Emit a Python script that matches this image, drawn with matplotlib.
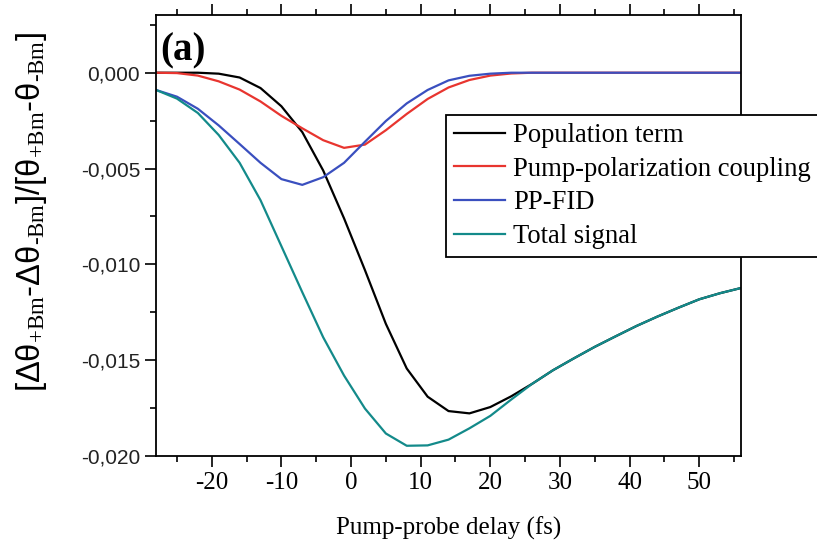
import numpy as np
import matplotlib
matplotlib.use('Agg')
import matplotlib.pyplot as plt
from matplotlib.ticker import MultipleLocator, FuncFormatter

# pump-probe delay (fs)
delay = [-28, -25, -22, -19, -16, -13, -10, -7, -4, -1, 2, 5, 8, 11, 14,
         17, 20, 23, 26, 29, 32, 35, 38, 41, 44, 47, 50, 53, 56]

population = [0.0, 0.0, 0.0, -0.00005, -0.00025, -0.0008, -0.00175, -0.0031,
              -0.0051, -0.0076, -0.0103, -0.0131, -0.01543, -0.0169, -0.01765,
              -0.01777, -0.01744, -0.01688, -0.01623, -0.01552, -0.0149,
              -0.0143, -0.01375, -0.01321, -0.01272, -0.01226, -0.01182,
              -0.0115, -0.01123]
pump_pol = [0.0, -0.00002, -0.00015, -0.00045, -0.00088, -0.0015, -0.00225,
            -0.0029, -0.00352, -0.00392, -0.00375, -0.003, -0.00215, -0.00137,
            -0.00077, -0.00038, -0.00015, -0.00004, 0.0, 0.0, 0.0, 0.0, 0.0,
            0.0, 0.0, 0.0, 0.0, 0.0, 0.0]
pp_fid = [-0.0009, -0.00125, -0.00188, -0.00275, -0.00372, -0.0047, -0.00555,
          -0.00585, -0.00545, -0.0047, -0.0036, -0.00252, -0.0016, -0.0009,
          -0.0004, -0.00016, -0.00005, 0.0, 0.0, 0.0, 0.0, 0.0, 0.0, 0.0,
          0.0, 0.0, 0.0, 0.0, 0.0]
total = [-0.0009, -0.00135, -0.0021, -0.00325, -0.0047, -0.00665, -0.00905,
         -0.01145, -0.0138, -0.0158, -0.01752, -0.01882, -0.01946, -0.01944,
         -0.01914, -0.01855, -0.0179, -0.01705, -0.01623, -0.01552, -0.0149,
         -0.0143, -0.01375, -0.01321, -0.01272, -0.01226, -0.01182, -0.0115,
         -0.01123]

serif = ['Liberation Serif', 'DejaVu Serif']
sans = ['Liberation Sans', 'DejaVu Sans']

plt.rcParams['axes.unicode_minus'] = False
plt.rcParams['mathtext.fontset'] = 'custom'
plt.rcParams['mathtext.rm'] = 'Liberation Serif'
plt.rcParams['mathtext.it'] = 'Liberation Serif:italic'
plt.rcParams['mathtext.bf'] = 'Liberation Serif:bold'

fig = plt.figure(figsize=(8.17, 5.43), dpi=100)
ax = fig.add_axes([0.191, 0.160, 0.716, 0.812])

ax.plot(delay, population, color='black', lw=1.6, label='Population term')
ax.plot(delay, pump_pol, color='#e8352f', lw=1.6, label='Pump-polarization coupling')
ax.plot(delay, pp_fid, color='#3a4fbf', lw=1.6, label='PP-FID')
ax.plot(delay, total, color='#138a8a', lw=1.6, label='Total signal')

ax.set_xlim(-28, 56)
ax.set_ylim(-0.020, 0.003)

ax.xaxis.set_major_locator(MultipleLocator(10))
ax.xaxis.set_minor_locator(MultipleLocator(5))
ax.yaxis.set_major_locator(MultipleLocator(0.005))
ax.yaxis.set_minor_locator(MultipleLocator(0.0025))
ax.yaxis.set_major_formatter(FuncFormatter(lambda v, p: f'{v:.3f}'.replace('.', ',')))

ax.tick_params(which='both', direction='out', top=True, right=False, width=1.2)
ax.tick_params(which='major', length=8)
ax.tick_params(which='minor', length=4.5)
for s in ax.spines.values():
    s.set_linewidth(1.3)

for lab in ax.get_xticklabels():
    lab.set_family(serif)
    lab.set_fontsize(18)
for lab in ax.get_yticklabels():
    lab.set_family(sans)
    lab.set_fontsize(15)
    lab.set_color('#222222')

ax.set_xlabel('Pump-probe delay (fs)', family=serif, fontsize=18, labelpad=16)
ylab = (r'[Δθ$_{\mathrm{+Bm}}$-Δθ$_{\text{-Bm}}$]/'
        r'[θ$_{\mathrm{+Bm}}$-θ$_{\text{-Bm}}$]')
ax.set_ylabel(ylab, family=sans, fontsize=23.5)
ax.yaxis.set_label_coords(-0.183, 0.553)

ax.text(0.008, 0.96, '(a)', transform=ax.transAxes, family=serif,
        fontsize=28, fontweight='bold', va='top', ha='left')

leg = ax.legend(loc='upper left', bbox_to_anchor=(0.496, 0.773), fancybox=False,
                framealpha=1, edgecolor='black', handlelength=1.9, handletextpad=0.3,
                labelspacing=0.32, borderpad=0.3, borderaxespad=0,
                prop={'family': serif, 'size': 19.2})
leg.get_frame().set_linewidth(1.3)

fig.savefig('out.png', dpi=100)
